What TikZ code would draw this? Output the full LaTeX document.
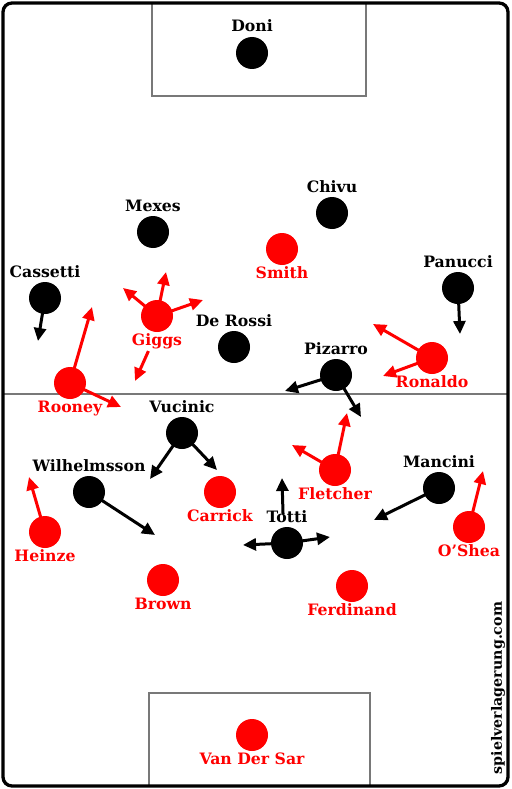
\documentclass[tikz,border=0pt]{standalone}
\usepackage{fontspec}
\setmainfont{DejaVu Serif}
\usetikzlibrary{arrows.meta}
\definecolor{pred}{RGB}{255,0,0}
\definecolor{lgray}{RGB}{120,120,120}
\tikzset{
  bp/.style={circle,fill=black,minimum size=32pt,inner sep=0pt},
  rp/.style={circle,fill=pred,minimum size=32pt,inner sep=0pt},
  blab/.style={anchor=base,inner sep=0pt,font=\bfseries\fontsize{15.7}{18}\selectfont,text=black},
  rlab/.style={anchor=base,inner sep=0pt,font=\bfseries\fontsize{15.7}{18}\selectfont,text=pred},
  barrow/.style={draw=black,line width=3pt,-{Triangle[length=13pt,width=12pt]},shorten <=-1pt},
  rarrow/.style={draw=pred,line width=3pt,-{Triangle[length=13pt,width=12pt]},shorten <=-1pt},
  fieldline/.style={draw=lgray,line width=1.3pt},
}
\begin{document}
\begin{tikzpicture}[x=1pt,y=-1pt]
\useasboundingbox (0,0) rectangle (511,789);
% field
\draw[fieldline] (152,3) rectangle (366,96);
\draw[fieldline] (149,786) rectangle (370,693);
\draw[fieldline] (3,394) -- (508,394);
\draw[line width=3.3pt,rounded corners=9pt] (3,3) rectangle (508,786);
% players
\node[bp] (doni) at (252,53) {};
\node[blab] (donil) at (252,32) {Doni};
\node[bp] (mexes) at (153,232) {};
\node[blab] (mexesl) at (153,211) {Mexes};
\node[bp] (chivu) at (332,213) {};
\node[blab] (chivul) at (332,192) {Chivu};
\node[rp] (smith) at (282,249) {};
\node[rlab] (smithl) at (282,278) {Smith};
\node[bp] (cassetti) at (45,298) {};
\node[blab] (cassettil) at (45,277) {Cassetti};
\node[bp] (panucci) at (458,288) {};
\node[blab] (panuccil) at (458,267) {Panucci};
\node[rp] (giggs) at (157,316) {};
\node[rlab] (giggsl) at (157,345) {Giggs};
\node[bp] (derossi) at (234,347) {};
\node[blab] (derossil) at (234,326) {De Rossi};
\node[bp] (pizarro) at (336,375) {};
\node[blab] (pizarrol) at (336,354) {Pizarro};
\node[rp] (ronaldo) at (432,358) {};
\node[rlab] (ronaldol) at (432,387) {Ronaldo};
\node[rp] (rooney) at (70,383) {};
\node[rlab] (rooneyl) at (70,412) {Rooney};
\node[bp] (vucinic) at (182,433) {};
\node[blab] (vucinicl) at (182,412) {Vucinic};
\node[bp] (wilh) at (89,492) {};
\node[blab] (wilhl) at (89,471) {Wilhelmsson};
\node[rp] (carrick) at (220,492) {};
\node[rlab] (carrickl) at (220,521) {Carrick};
\node[rp] (fletcher) at (335,470) {};
\node[rlab] (fletcherl) at (335,499) {Fletcher};
\node[bp] (mancini) at (439,488) {};
\node[blab] (mancinil) at (439,467) {Mancini};
\node[rp] (heinze) at (45,532) {};
\node[rlab] (heinzel) at (45,561) {Heinze};
\node[bp] (totti) at (287,543) {};
\node[blab] (tottil) at (287,522) {Totti};
\node[rp] (oshea) at (469,527) {};
\node[rlab] (oshealabel) at (469,556) {O{\char"0027}Shea};
\node[rp] (brown) at (163,580) {};
\node[rlab] (brownl) at (163,609) {Brown};
\node[rp] (ferdinand) at (352,586) {};
\node[rlab] (ferdinandl) at (352,615) {Ferdinand};
\node[rp] (vds) at (252,735) {};
\node[rlab] (vdsl) at (252,764) {Van Der Sar};
% arrow targets
\coordinate (cassettiT) at (38,341);
\coordinate (giggsNW) at (123,288);
\coordinate (giggsUp) at (166,272);
\coordinate (giggsR) at (203,300);
\coordinate (giggsDs) at (148,352);
\coordinate (giggsD) at (135,381);
\coordinate (rooneyUp) at (92,307);
\coordinate (rooneyR) at (121,407);
\coordinate (panucciT) at (460,334);
\coordinate (ronaldoA) at (373,324);
\coordinate (ronaldoB) at (383,376);
\coordinate (pizarroA) at (285,391);
\coordinate (pizarroB) at (361,417);
\coordinate (vucinicA) at (150,479);
\coordinate (vucinicB) at (217,470);
\coordinate (wilhT) at (155,535);
\coordinate (heinzeT) at (29,477);
\coordinate (fletcherA) at (347,413);
\coordinate (fletcherB) at (292,445);
\coordinate (tottiUs) at (283,513);
\coordinate (tottiU) at (282,478);
\coordinate (tottiL) at (243,545);
\coordinate (tottiR) at (330,537);
\coordinate (manciniT) at (374,520);
\coordinate (osheaT) at (483,471);
% arrows
\draw[barrow] (cassetti) -- (cassettiT);
\draw[rarrow] (giggs) -- (giggsNW);
\draw[rarrow] (giggs) -- (giggsUp);
\draw[rarrow] (giggs) -- (giggsR);
\draw[rarrow] (giggsDs) -- (giggsD);
\draw[rarrow] (rooney) -- (rooneyUp);
\draw[rarrow] (rooney) -- (rooneyR);
\draw[barrow] (panucci) -- (panucciT);
\draw[rarrow] (ronaldo) -- (ronaldoA);
\draw[rarrow] (ronaldo) -- (ronaldoB);
\draw[barrow] (pizarro) -- (pizarroA);
\draw[barrow] (pizarro) -- (pizarroB);
\draw[barrow] (vucinic) -- (vucinicA);
\draw[barrow] (vucinic) -- (vucinicB);
\draw[barrow] (wilh) -- (wilhT);
\draw[rarrow] (heinze) -- (heinzeT);
\draw[rarrow] (fletcher) -- (fletcherA);
\draw[rarrow] (fletcher) -- (fletcherB);
\draw[barrow] (tottiUs) -- (tottiU);
\draw[barrow] (totti) -- (tottiL);
\draw[barrow] (totti) -- (tottiR);
\draw[barrow] (mancini) -- (manciniT);
\draw[rarrow] (oshea) -- (osheaT);
% watermark
\node[rotate=90,inner sep=0pt,font=\bfseries\fontsize{14.2}{16}\selectfont] (wm) at (498,688) {spielverlagerung.com};
\end{tikzpicture}
\end{document}
